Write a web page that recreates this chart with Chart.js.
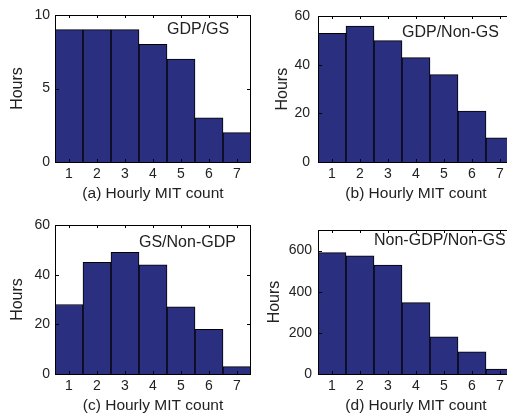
<!DOCTYPE html>
<html><head><meta charset="utf-8">
<script src="https://cdn.jsdelivr.net/npm/chart.js@4/dist/chart.umd.min.js"></script>
<style>
html,body{margin:0;padding:0;background:#fff;overflow:hidden;width:507px;height:418px;}
.p{position:absolute;}
canvas{display:block;}
</style></head><body>
<div class="p" style="left:0px;top:0px"><canvas id="ca" width="253" height="203"></canvas></div>
<div class="p" style="left:253px;top:0px"><canvas id="cb" width="263" height="203"></canvas></div>
<div class="p" style="left:0px;top:210px"><canvas id="cc" width="253" height="205"></canvas></div>
<div class="p" style="left:253px;top:210px"><canvas id="cd" width="263" height="205"></canvas></div>
<script>
const categories = ['1','2','3','4','5','6','7'];
const gdpGs = [9, 9, 9, 8, 7, 3, 2];
const gdpNonGs = [53, 56, 50, 43, 36, 21, 10];
const gsNonGdp = [28, 45, 49, 44, 27, 18, 3];
const nonGdpNonGs = [590, 575, 530, 347, 181, 108, 24];
const ticksA = [0, 5, 10];
const ticksB = [0, 20, 40, 60];
const ticksC = [0, 20, 40, 60];
const ticksD = [0, 200, 400, 600];
const xTitles = ['(a) Hourly MIT count','(b) Hourly MIT count','(c) Hourly MIT count','(d) Hourly MIT count'];
const panelLabels = ['GDP/GS','GDP/Non-GS','GS/Non-GDP','Non-GDP/Non-GS'];

const FONT = "'Liberation Sans', Arial, Helvetica, sans-serif";
const TXT = '#222';

const boxPlugin = {
  id: 'box',
  afterDatasetsDraw(chart, args, opts) {
    const {ctx, chartArea: a, scales: {x, y}} = chart;
    ctx.save();
    ctx.strokeStyle = '#000';
    ctx.lineWidth = 1;
    const L = Math.round(a.left), T = Math.round(a.top), R = Math.round(a.right), B = Math.round(a.bottom);
    ctx.strokeRect(L + 0.5, T + 0.5, R - L - 1, B - T);
    ctx.beginPath();
    y.ticks.forEach(t => {
      const py = Math.round(y.getPixelForValue(t.value)) + 0.5;
      ctx.moveTo(L, py); ctx.lineTo(L + 4, py);
      ctx.moveTo(R, py); ctx.lineTo(R - 4, py);
    });
    x.ticks.forEach((t, i) => {
      const px = Math.round(x.getPixelForValue(i)) + 0.5;
      ctx.moveTo(px, T); ctx.lineTo(px, T + 3);
      ctx.moveTo(px, B); ctx.lineTo(px, B - 3);
    });
    ctx.stroke();
    ctx.font = '16px ' + FONT;
    ctx.fillStyle = TXT;
    ctx.textAlign = 'left';
    ctx.textBaseline = 'middle';
    ctx.fillText(opts.text, x.getPixelForValue(opts.at), a.top + opts.dy);
    ctx.restore();
  }
};

function makeChart(id, data, yMax, yStep, yTicks, cfg) {
  return new Chart(document.getElementById(id), {
    type: 'bar',
    data: {
      labels: categories,
      datasets: [{
        data: data,
        backgroundColor: '#2b2f80',
        borderColor: '#000',
        borderWidth: 1,
        barPercentage: 1,
        categoryPercentage: 1
      }]
    },
    plugins: [boxPlugin],
    options: {
      responsive: false,
      animation: false,
      devicePixelRatio: 1,
      layout: {padding: {top: cfg.padTop, right: 2, left: 0, bottom: 0}},
      plugins: {
        legend: {display: false},
        tooltip: {enabled: false},
        box: {text: cfg.label, at: cfg.at, dy: cfg.dy}
      },
      scales: {
        x: {
          type: 'category',
          offset: true,
          grid: {display: false, drawTicks: false},
          border: {display: false},
          ticks: {autoSkip: false, maxRotation: 0, padding: 4, color: TXT, font: {family: FONT, size: 14}},
          title: {display: true, text: cfg.xTitle, color: TXT, padding: {top: 0, bottom: 0}, font: {family: FONT, size: 15.5}},
          afterFit(s) { s.height = 41; }
        },
        y: {
          min: 0, max: yMax,
          grid: {display: false, drawTicks: false},
          border: {display: false},
          ticks: {stepSize: yStep, padding: cfg.tickPad, color: TXT, font: {family: FONT, size: 14}},
          afterBuildTicks(s) { s.ticks = yTicks.map(v => ({value: v})); },
          title: {display: true, text: 'Hours', color: TXT, padding: {top: cfg.titlePad, bottom: 0}, font: {family: FONT, size: 16}},
          afterFit(s) { s.width = cfg.yW; }
        }
      }
    }
  });
}

makeChart('ca', gdpGs, 10, 5, ticksA, {padTop: 15, yW: 55, tickPad: 5, titlePad: 8.4, xTitle: xTitles[0], label: panelLabels[0], at: 3.5, dy: 15});
makeChart('cb', gdpNonGs, 60, 20, ticksB, {padTop: 15, yW: 65, tickPad: 8, titlePad: 20.4, xTitle: xTitles[1], label: panelLabels[1], at: 2.5, dy: 16});
makeChart('cc', gsNonGdp, 60, 20, ticksC, {padTop: 15, yW: 55, tickPad: 5, titlePad: 8.4, xTitle: xTitles[2], label: panelLabels[2], at: 2.5, dy: 18});
makeChart('cd', nonGdpNonGs, 700, 200, ticksD, {padTop: 20, yW: 65, tickPad: 6, titlePad: 12.4, xTitle: xTitles[3], label: panelLabels[3], at: 1.5, dy: 11});
</script>
</body></html>
